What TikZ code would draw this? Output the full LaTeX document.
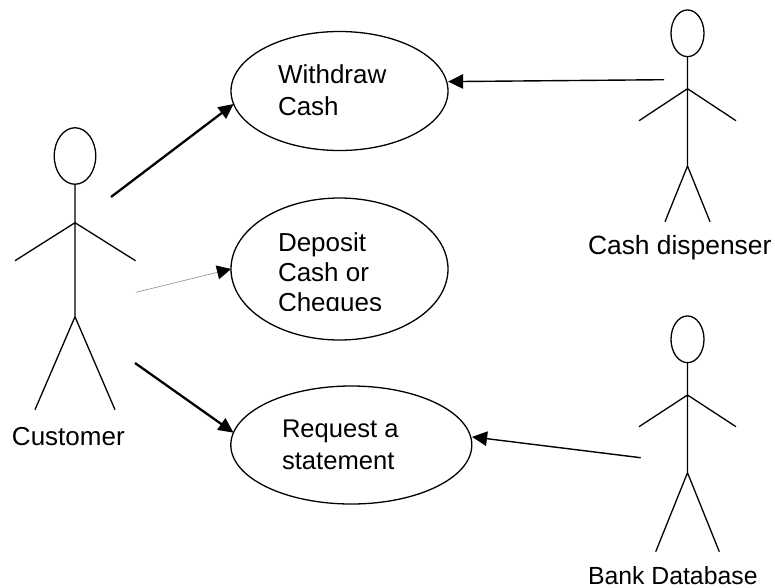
\documentclass[tikz,border=0pt]{standalone}
\usepackage{fontspec}
\setmainfont{Liberation Sans}
\usetikzlibrary{arrows.meta,shapes.geometric}
\tikzset{
  ln/.style={draw=black,line width=1.3pt},
  usecase/.style={ln,shape=ellipse,inner sep=0pt,outer sep=0pt},
  lbl/.style={font=\fontsize{26}{32}\selectfont,inner sep=0pt,outer sep=0pt,align=left,text=black,anchor=base west},
  arr/.style={-{Triangle[length=15pt,width=14.5pt]},draw=black,line width=1.4pt},
  arrb/.style={-{Triangle[length=15pt,width=14pt]},draw=black,line width=2.3pt},
  arrt/.style={-{Triangle[length=14pt,width=14pt,color=black,fill=black]},draw=black!45,line width=0.6pt}
}
\begin{document}
\begin{tikzpicture}[x=1pt,y=-1pt]
\useasboundingbox (0,0) rectangle (775,587);
% use cases
\node[usecase,minimum width=217pt,minimum height=119pt] (uc1) at (339.5,91) {};
\node[usecase,minimum width=217pt,minimum height=142pt] (uc2) at (339.5,269) {};
\node[usecase,minimum width=241pt,minimum height=118pt] (uc3) at (351.3,445) {};
\node[lbl] (t1) at (278,115) {Withdraw\\Cash};
\begin{scope}
\clip (270,220) rectangle (400,310);
\node[lbl,font=\fontsize{26}{30}\selectfont] (t2) at (278,311) {Deposit\\Cash or\\Cheques};
\end{scope}
\node[lbl,font=\fontsize{25.6}{32}\selectfont] (t3) at (282,469) {Request a\\statement};
% customer
\node[ln,shape=ellipse,inner sep=0pt,outer sep=0pt,minimum width=41.5pt,minimum height=56.5pt] (hc) at (75,156) {};
\coordinate (c2) at (75,316.7);
\coordinate (c3) at (15,260.7); \coordinate (c4) at (75,222.7); \coordinate (c5) at (135.5,260.7);
\coordinate (c6) at (35,409.7); \coordinate (c7) at (115,409.7);
\draw[ln] (hc.south) -- (c2) (c3) -- (c4) -- (c5) (c6) -- (c2) -- (c7);
\node[lbl] (n1) at (12,445) {Customer};
% cash dispenser
\node[ln,shape=ellipse,inner sep=0pt,outer sep=0pt,minimum width=33pt,minimum height=46.7pt] (ha) at (687.5,33.3) {};
\coordinate (a2) at (687.5,166);
\coordinate (a3) at (639,120.7); \coordinate (a4) at (687.5,88.7); \coordinate (a5) at (736,120.7);
\coordinate (a6) at (665,221.7); \coordinate (a7) at (710,221.7);
\draw[ln] (ha.south) -- (a2) (a3) -- (a4) -- (a5) (a6) -- (a2) -- (a7);
\node[lbl,font=\fontsize{26.4}{32}\selectfont] (n2) at (588,254) {Cash dispenser};
% bank database
\node[ln,shape=ellipse,inner sep=0pt,outer sep=0pt,minimum width=33pt,minimum height=46.7pt] (hb) at (687.5,339.3) {};
\coordinate (b2) at (687.5,472.7);
\coordinate (b3) at (639,426.7); \coordinate (b4) at (687.5,395); \coordinate (b5) at (736,426.7);
\coordinate (b6) at (655.7,551.7); \coordinate (b7) at (719.3,551.7);
\draw[ln] (hb.south) -- (b2) (b3) -- (b4) -- (b5) (b6) -- (b2) -- (b7);
\node[lbl,font=\fontsize{24.8}{32}\selectfont] (n3) at (588,584) {Bank Database};
% connectors
\coordinate (s1) at (111,197);
\coordinate (s2) at (136,292.3);
\coordinate (s3) at (135,363);
\coordinate (s4) at (664,79.7);
\coordinate (s5) at (640.7,457.7);
\draw[arrb] (s1) -- (uc1.187.6);
\draw[arrt] (s2) -- (uc2.west);
\draw[arrb] (s3) -- (uc3.174.7);
\draw[arr,shorten >=1.5pt] (s4) -- (uc1.5.9);
\draw[arr,shorten >=1.5pt] (s5) -- (uc3.4.8);
\end{tikzpicture}
\end{document}
